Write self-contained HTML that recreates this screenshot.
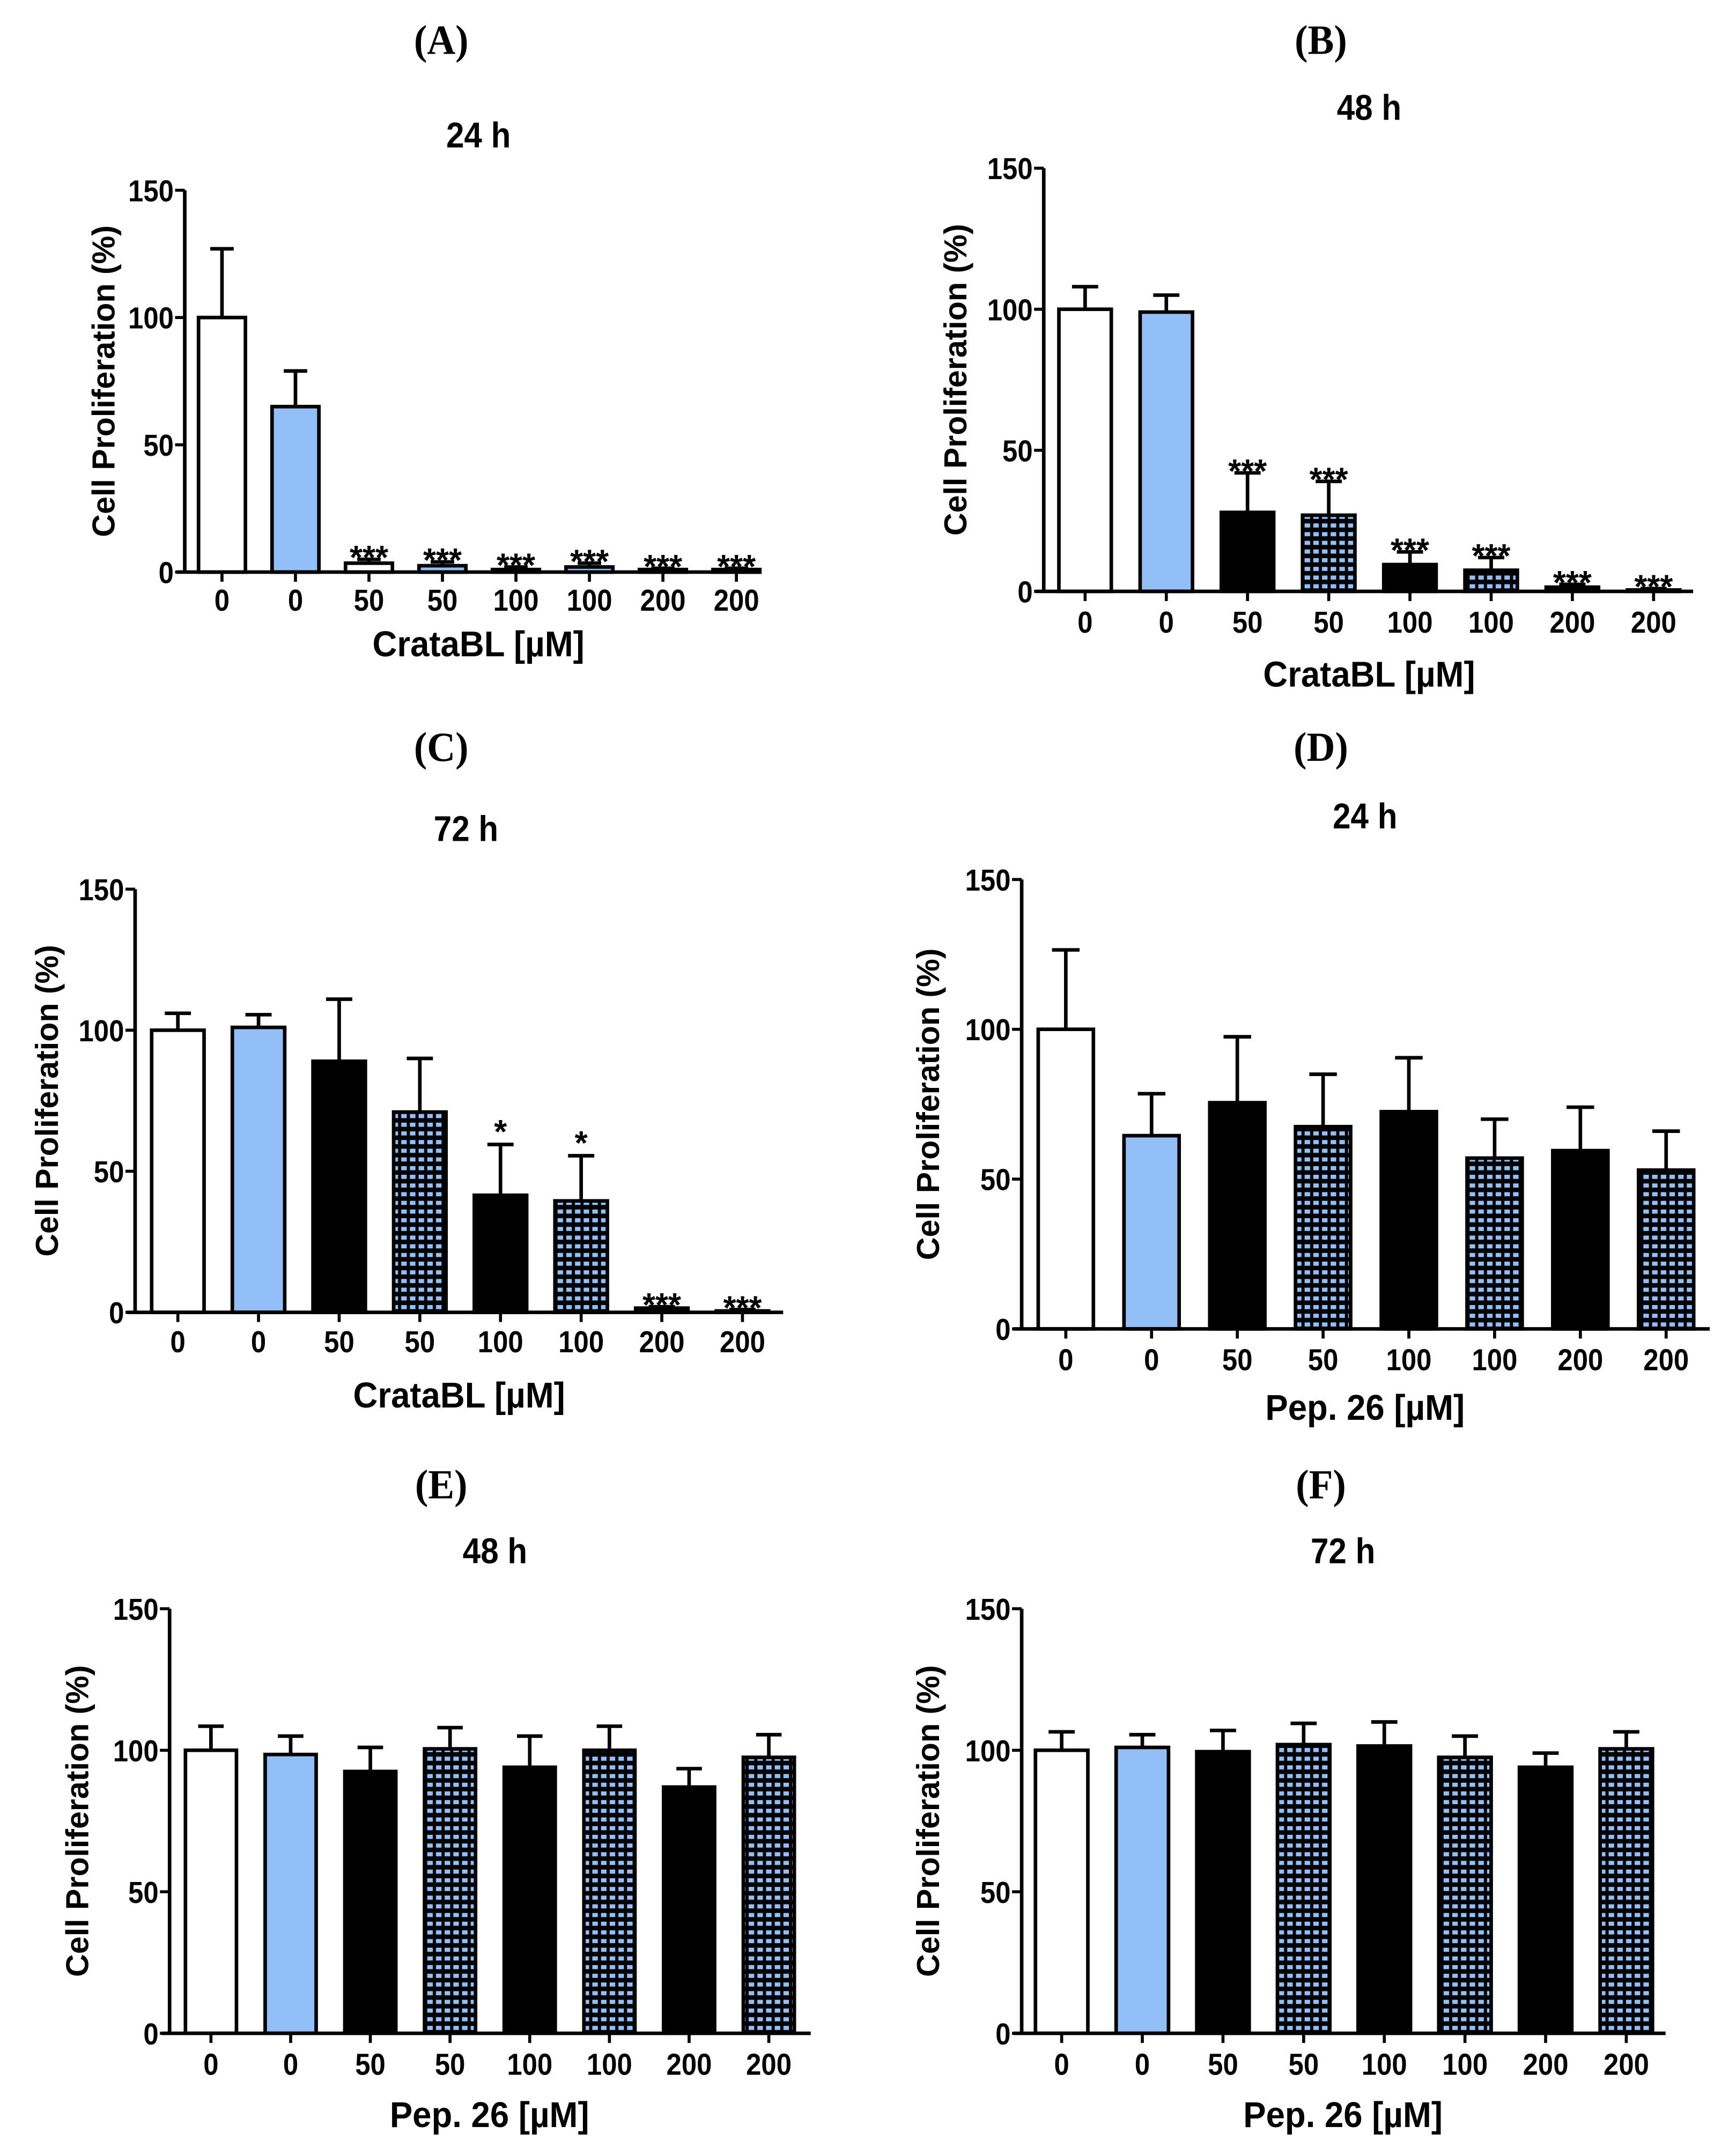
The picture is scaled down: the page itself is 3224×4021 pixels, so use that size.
<!DOCTYPE html>
<html><head><meta charset="utf-8"><style>
html,body{margin:0;padding:0;background:#fff;}
svg{display:block;}
.tk{font-family:"Liberation Sans",sans-serif;font-weight:bold;font-size:22px;fill:#000;}
.ttl{font-family:"Liberation Sans",sans-serif;font-weight:bold;font-size:26px;fill:#000;}
.yt{font-family:"Liberation Sans",sans-serif;font-weight:bold;font-size:23px;fill:#000;}
.pl{font-family:"Liberation Serif",serif;font-weight:bold;font-size:30px;fill:#000;}
.st{font-family:"Liberation Sans",sans-serif;font-weight:bold;font-size:24px;fill:#000;}
</style></head><body>
<svg id="fig" xmlns="http://www.w3.org/2000/svg" width="3224" height="4021" viewBox="0 0 1254 1564">
<defs>
<pattern id="chk" patternUnits="userSpaceOnUse" width="6.3" height="6.3">
<rect width="6.3" height="6.3" fill="#000"/>
<rect x="1.2" y="1.7" width="4" height="3" fill="#93bff8"/>
</pattern>
</defs>
</svg>
<script>
const categories = ["0","0","50","50","100","100","200","200"];
const valuesA = [100,65,3.5,2.5,1,2,1,1];
const errA = [127,79,5,4,2,3.5,1.5,1.5];
const starsA = ["","","***","***","***","***","***","***"];
const valuesB = [100,99,28,27,9.5,7.5,1.5,0.5];
const errB = [108,105,42,39,14,12,2.5,1];
const starsB = ["","","***","***","***","***","***","***"];
const valuesC = [100,101,89,71,41.5,39.5,1.5,0.5];
const errC = [106,105.5,111,90,59.5,55.5,2,1];
const starsC = ["","","","","*","*","***","***"];
const valuesD = [100,64.5,75.5,67.5,72.5,57,59.5,53];
const errD = [126.5,78.5,97.5,85,90.5,70,74,66];
const starsD = ["","","","","","","",""];
const valuesE = [100,98.5,92.5,100.5,94,100,87,97.5];
const errE = [108.5,105,101,108,105,108.5,93.5,105.5];
const starsE = ["","","","","","","",""];
const valuesF = [100,101,99.5,102,101.5,97.5,94,100.5];
const errF = [106.5,105.5,107,109.5,110,105,99,106.5];
const starsF = ["","","","","","","",""];
const yTicks = [0,50,100,150];

const NS="http://www.w3.org/2000/svg";
const svg=document.getElementById('fig');
function mk(tag,attrs,parent,text){const e=document.createElementNS(NS,tag);for(const k in attrs)e.setAttribute(k,attrs[k]);if(text!==undefined)e.textContent=text;(parent||svg).appendChild(e);return e;}
function ntext(x,y,anchor,cls,parent,text,sx){return mk('text',{x:0,y:0,'text-anchor':anchor,class:cls,transform:'translate('+x+' '+y+') scale('+(sx||0.9)+' 1)'},parent,text);}

const panels=[
 {id:'a',L:'(A)',lx:320,ly:39,T:'24 h',tx:347,ty:107,ax:134,top:138,bot:415,x0:161,dx:53.3,bw:34,xend:551,tly:443,xt:'CrataBL [µM]',xtx:347,xty:476,ytx:83,v:valuesA,e:errA,s:starsA,fills:['#fff','#93bff8','#fff','#93bff8','#fff','#93bff8','#fff','#93bff8']},
 {id:'b',L:'(B)',lx:958,ly:39,T:'48 h',tx:993,ty:87,ax:757,top:122,bot:429,x0:787,dx:58.9,bw:38,xend:1228,tly:459,xt:'CrataBL [µM]',xtx:993,xty:498,ytx:701,v:valuesB,e:errB,s:starsB},
 {id:'c',L:'(C)',lx:320,ly:552,T:'72 h',tx:338,ty:610,ax:98,top:645,bot:952,x0:129,dx:58.5,bw:38,xend:568,tly:981,xt:'CrataBL [µM]',xtx:333,xty:1021,ytx:42,v:valuesC,e:errC,s:starsC},
 {id:'d',L:'(D)',lx:958,ly:552,T:'24 h',tx:990,ty:601,ax:741,top:638,bot:964,x0:773,dx:62.2,bw:40,xend:1240,tly:994,xt:'Pep. 26 [µM]',xtx:990,xty:1030,ytx:681,v:valuesD,e:errD,s:starsD},
 {id:'e',L:'(E)',lx:320,ly:1087,T:'48 h',tx:359,ty:1134,ax:123,top:1167,bot:1475,x0:153,dx:57.8,bw:37,xend:588,tly:1505,xt:'Pep. 26 [µM]',xtx:355,xty:1543,ytx:64,v:valuesE,e:errE,s:starsE},
 {id:'f',L:'(F)',lx:958,ly:1087,T:'72 h',tx:974,ty:1134,ax:741,top:1167,bot:1475,x0:770,dx:58.5,bw:38,xend:1208,tly:1505,xt:'Pep. 26 [µM]',xtx:974,xty:1543,ytx:681,v:valuesF,e:errF,s:starsF}
];
const defFills=['#fff','#93bff8','#000','url(#chk)','#000','url(#chk)','#000','url(#chk)'];

panels.forEach(p=>{
  const g=mk('g',{});
  
  
  const ys=v=>p.bot-(v/150)*(p.bot-p.top);
  const xs=i=>p.x0+i*p.dx;
  const pl=ntext(p.lx,p.ly,'middle','pl',g,p.L,0.95);
  
  
  const t=ntext(p.tx,p.ty,'middle','ttl',g,p.T);
  
  
  const fills=p.fills||defFills;
  p.v.forEach((v,i)=>{
    const cx=xs(i), y=ys(v), ye=ys(p.e[i]);
    const el=mk('line',{x1:cx,x2:cx,y1:ye,y2:y,stroke:'#000','stroke-width':2.6},g);
    
    
    const cap=mk('line',{x1:cx-p.bw/4,x2:cx+p.bw/4,y1:ye,y2:ye,stroke:'#000','stroke-width':2.6},g);
    
    
    const r=mk('rect',{x:cx-p.bw/2,y:y,width:p.bw,height:Math.max(p.bot-y,0.5),fill:fills[i],stroke:'#000','stroke-width':2.6},g);
    
    
    if(p.s[i]){
      const s=mk('text',{x:cx,y:ye-3+(p.s[i]=='*'?2:10),'text-anchor':'middle',class:'st'},g,p.s[i]);
      
      
    }
    const tk=mk('line',{x1:cx,x2:cx,y1:p.bot,y2:p.bot+7,stroke:'#000','stroke-width':2.2},g);
    
    
    const tl=ntext(cx,p.tly,'middle','tk',g,categories[i]);
    
    
  });
  const ya=mk('line',{x1:p.ax,x2:p.ax,y1:p.top,y2:p.bot,stroke:'#000','stroke-width':2.6},g);
  
  
  const xa=mk('line',{x1:p.ax-6,x2:p.xend,y1:p.bot,y2:p.bot,stroke:'#000','stroke-width':2.6},g);
  
  
  yTicks.forEach(v=>{
    const y=ys(v);
    const l=mk('line',{x1:p.ax-7,x2:p.ax,y1:y,y2:y,stroke:'#000','stroke-width':2.2},g);
    
    
    const tx=ntext(p.ax-8,y+8,'end','tk',g,String(v));
    
    
  });
  const xt=ntext(p.xtx,p.xty,'middle','ttl',g,p.xt,0.95);
  
  
  const cy=(p.top+p.bot)/2;
  const yt=mk('text',{x:p.ytx,y:cy,'text-anchor':'middle',class:'yt',transform:'rotate(-90 '+p.ytx+' '+cy+')'},g,'Cell Proliferation (%)');
  
  
});
</script>
</body></html>
